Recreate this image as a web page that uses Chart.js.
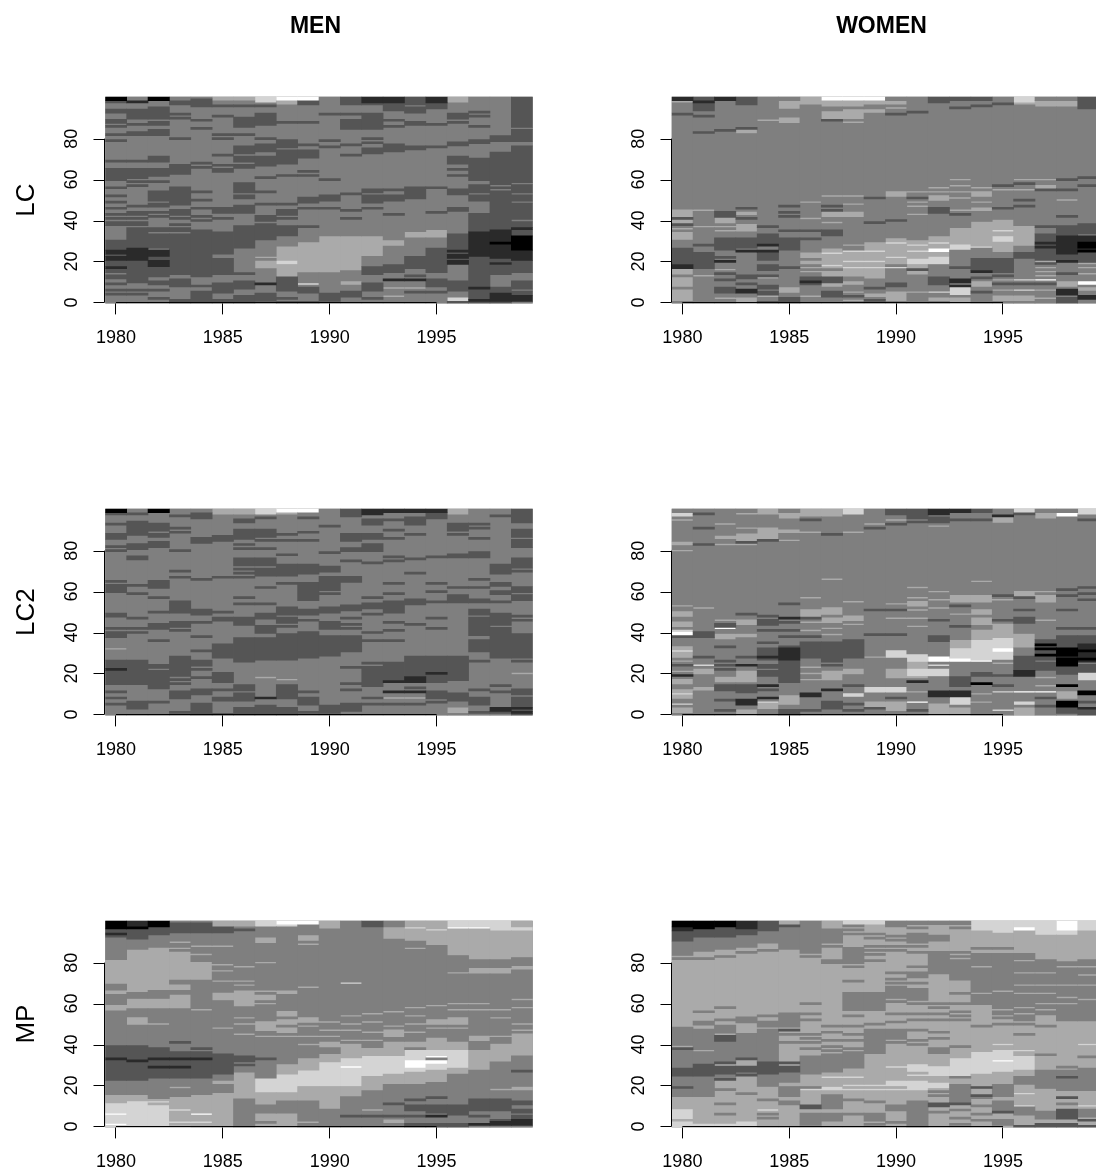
<!DOCTYPE html>
<html><head><meta charset="utf-8">
<script src="https://cdn.jsdelivr.net/npm/chart.js@4/dist/chart.umd.js"></script>
<style>html,body{margin:0;padding:0;background:#fff;width:1096px;height:1174px;overflow:hidden;position:relative}canvas{position:absolute}</style>
</head><body>
<script>
// Each string is one year column: "baseLevel age-age:level age:level ..." (levels 0 black .. 6 white)
const years=[1980,1981,1982,1983,1984,1985,1986,1987,1988,1989,1990,1991,1992,1993,1994,1995,1996,1997,1998,1999];
const yearTicks=[1980,1985,1990,1995];
const ageTicks=[0,20,40,60,80];
const grays=['#000000','#2a2a2a','#555555','#7f7f7f','#aaaaaa','#d4d4d4','#ffffff'];
const menLC=[
"3 99-100:0 98:2 93-94:2 88-89:2 86:2 82:2 79:2 69:2 60-65:2 56:2 52:2 49:2 46:2 43:2 41:2 38-39:2 26-30:2 24-25:1 23:2 21-22:1 18-20:2 17:1 15-16:2 12-13:2 9:2 6:2 4:2",
"3 98:1 90-94:2 87:2 82-83:2 69:2 61-65:2 59:2 57:2 47:2 43-44:2 41:2 38-39:2 27-36:2 21-26:1 13-20:2 10-12:2 6:2 4:2",
"3 99-100:0 90-95:2 87-88:2 82-84:2 69-71:2 62-65:2 59:2 51-54:2 50:2 47-48:2 44:2 42:2 36:2 27-35:2 34:3 23-25:1 21-22:2 18-20:1 13-17:2 9-10:2 6:2 2:2",
"3 97-98:2 92:2 90:2 80:2 63-67:2 48-56:2 43-45:2 41:2 38:2 35-36:2 14-33:2 8-11:2 0-1:2",
"3 96-99:2 89:2 85:2 68:2 66:2 54:2 50:2 46:2 42:2 40:2 31-35:2 27:1 13-31:2 10:3 8:2 0-5:2",
"3 99-100:4 96:2 91:2 82:2 80:2 72:2 67:2 64-65:2 44-46:2 41:2 24-34:2 23:3 22:3 14-21:2 5-9:2 0-1:2",
"3 99-100:4 96:2 86-90:2 82:2 73-76:2 69-71:2 66-67:2 54-58:2 51-52:2 44-47:2 27-37:2 14:2 7-10:2 0-3:2",
"3 98-100:5 96:2 87-92:2 80:2 74-77:2 67-71:2 61:2 54:2 48:2 40-42:2 31-38:2 22:4 17-20:4 9:1 1-4:2",
"3 99-100:6 97-98:4 88:2 76-79:2 68-74:2 62:2 48:2 43-45:2 41:2 33-37:2 27:4 16-26:4 19-20:5 13-15:4 10-12:2 6-9:2 2:2 0:2",
"3 99-100:6 97-98:2 88:2 77:2 71-74:2 64:2 62:2 49-51:2 46:2 37:2 15-29:4 9:5 5-7:2 0:2",
"3 92:2 79:2 76:2 60:2 50-52:2 46:2 15-32:4 1-4:2",
"3 97-100:2 92:2 85-89:2 77:2 72:2 53:2 45:2 41:2 19-32:4 17-18:4 16:4 12-15:3 9-10:4 3-5:2",
"3 98-100:1 97:2 88-92:2 85-87:2 80:2 78:2 73-75:2 54-55:2 49-52:2 46:2 23-32:4 14-17:2 6-9:2 2:2",
"3 98-100:1 94-97:2 89:2 86:2 74-77:2 55:2 50-52:2 43:2 28-30:4 15-18:2 11:1 7:4 3:4 ",
"3 98-100:2 97:2 93-95:2 87-88:2 75-76:2 54-56:2 51-53:2 32-34:4 17-22:2 13:2 11:1 7:4 5:2",
"3 98-100:1 95-97:2 87:2 76:2 56:2 44:2 32-35:4 15-26:2 8-11:2 5:2",
"3 98-100:4 90-92:2 88:2 77-78:2 68-71:2 65:2 62:2 53-55:2 45-46:2 33:2 20-32:2 25:1 22-23:1 19-20:1 6-10:2 3:3 1-2:5 0:2",
"3 93:2 91:2 86:2 78-79:2 60-70:2 54-57:2 50-52:2 33-43:2 23-33:1 34:1 0-22:2 7:1 1:1",
"3 79-81:2 58-73:2 56:2 36-54:2 27-35:1 29:0 22-26:1 0-21:2 19:1 9-13:3 8:3 1-4:1",
"3 90-100:2 86-89:2 79-84:2 63-76:2 54-62:2 58:3 50-52:2 46-48:2 37-45:2 40:3 36:1 32-35:2 26-32:0 21-25:1 15-20:2 7-10:2 4-5:2 1-3:1"];
const womenLC=[
"3 99-100:1 98:4 96-97:3 92:2 42-45:4 41:2 39-40:4 38:2 36:4 34:4 32-33:4 31:4 28-30:3 24-26:2 19-23:2 17-18:1 14-16:4 8-12:4 3-6:4 1-2:4",
"3 98-100:2 95-97:2 98:1 94:2 91:2 83:2 45:4 37:4 28:2 17-24:2 13:4",
"3 99-100:1 97:3 84:2 42-44:2 39-41:4 37:4 35:4 26-31:2 25:3 20:1 22:2 16:4 14:2 11:2 5-7:2 2:4",
"3 98-100:2 97:2 85:2 84:4 83:4 46:2 43-44:4 41:2 35-38:4 27-31:2 25:1 12-13:2 9:2 5-6:1 0-2:4",
"3 89:4 37:2 33:2 28-32:2 28:1 25:1 21-24:2 16-18:2 13:2 12:4 7-8:2 4-5:2 3:4 0:2",
"3 95-98:4 88-90:4 47:2 44:2 42:2 35:2 26-31:2 17:2 5-7:4 0-2:2",
"3 97-100:4 49:4 41:4 35:2 31:2 22-24:4 21:3 19-20:4 17:4 15:4 9-12:2 10:1 3:4",
"3 99-100:6 96-98:4 90-93:4 89:2 52:4 47:2 45:2 42-44:4 39:4 33-35:2 8-26:4 24:5 18:5 16:3 10-12:2 3-5:2 7:3",
"3 99-100:6 96-98:4 90-94:4 88:4 52:4 48:4 42-44:4 28:4 13-25:4 25:5 20:5 17:5 9-10:4 6:3 5:4 3:2 1:4",
"3 99-100:6 97-98:4 93-94:4 51:2 39:2 12-29:4 25:5 20:5 17:5 7:2 3-4:4 1:2",
"3 97-98:4 95:4 92:2 52-54:4 40:2 19-31:4 29:5 22:5 17:5 14:3 8-9:2 1-5:4",
"3 98-100:3 93:2 54:4 51:2 49:4 47:4 43:4 14-30:4 28:5 25:5 19-21:5 16:2 5:4",
"3 98-100:2 56:4 54:4 50-52:4 44-46:2 19-32:4 29:5 26:6 25:6 19-22:5 9-12:2 5:5 1-2:4",
"3 99-100:2 97:3 95:2 60:4 57:4 54:4 51:4 45:4 43:2 36:4 27-35:4 26-28:5 17:2 8-11:1 9:3 4-7:5 0-2:4",
"3 99-100:2 96:2 56:4 52-54:4 49:4 45-46:4 27-39:4 27:5 15-21:2 15:1 12:2 8-10:4 5:2",
"3 98-100:3 97:2 57:2 55:4 46:2 25-40:4 35:5 30-32:5 15-21:2 13:2 11:4 9:2 6:4 1-3:4",
"3 98-100:5 97:4 60:4 58:2 55:4 50:2 47:2 37:4 28-36:4 22-24:2 11:5 9:2 6:5 1-3:4",
"3 96-98:4 60:4 56-57:4 55:2 37:2 23-33:2 29:1 27:1 19-22:2 20:4 17:4 15:4 13:4 11:6 9:2 6:4 2:4",
"3 96-98:4 60:2 55:2 50:4 42:2 32-37:2 24-32:1 21-23:2 20:1 14:2 8-10:4 4-6:1 0-2:2",
"3 96-100:2 95:2 61:2 57:2 34-38:2 29-32:1 27-29:0 25-26:1 25:0 20-24:2 19:4 17:4 14:4 9-10:6 6-7:4 2-3:1"];
const menLC2=[
"3 99-100:0 98:2 93:2 86-88:2 82:2 80:2 65:2 60-63:2 49:2 48:2 42:2 38-40:2 32:4 15-26:2 22:1 11:2 8:2 5:2",
"3 98:2 89-94:2 88:2 81-83:2 76-77:2 63:2 59:2 47:2 42:2 40:2 15-26:2 3-6:2",
"3 99-100:0 90-93:2 87-88:2 82-84:2 62-65:2 57:2 50:2 42-44:2 36:2 13-24:2 22:3 6:2",
"3 97:2 91:2 89:2 80:2 70:2 67:2 50-55:2 43-45:2 41:2 19-28:2 17:2 15:2 8-11:2 1:2",
"3 96-98:2 84-86:2 66:2 49-51:2 45:2 38:2 31:2 24-26:2 22:2 18:2 10-12:2 0-5:2",
"3 98-100:4 85-87:2 67:2 50:2 46-47:2 29-34:2 28:2 16-20:2 12:2 7-8:2 0:2",
"3 98-100:4 95:2 94:2 86-90:2 83:2 81:2 73-76:2 71:2 69:2 67:2 57:2 54:2 44-47:2 26-37:2 12-14:2 7-10:2 0-3:2",
"3 98-100:5 96:2 87-90:2 85:2 81:2 73-76:2 68-71:2 62:2 54:2 47-49:2 40-43:2 27-37:2 18:4 8:1 0-4:2",
"3 99-100:6 98:4 88:2 85:2 78:2 68-73:2 64:2 49-52:2 45-47:2 43:2 36-39:2 27-36:2 17:4 8-14:2 0-3:2",
"3 99-100:6 96:2 89:2 85:2 69-73:2 56-64:2 49-51:2 46:2 28-40:2 11:2 5-8:2 1:2",
"3 92:2 79:2 70-72:2 61-67:2 59:2 50-52:2 42-45:2 38:2 29-37:2 1-4:2",
"3 97-100:2 85-88:2 80-81:2 75:2 65-67:2 51-53:2 47:2 44:2 42:2 31-38:2 23:2 15:2 12:2 2-5:2",
"3 98-100:1 93-95:2 86-88:2 80-83:2 74:2 57:2 52-54:2 49:2 40:2 36:2 25:2 14-23:2 8:2 5:2",
"3 99-100:1 95:2 90:2 86:2 77:2 75:2 64:2 59:2 50-55:2 45:2 41:2 36:2 16-25:2 16:1 11:1 8:4 5:2",
"3 99-100:1 93-96:2 88:2 76:2 69:2 54-56:2 44:2 18-28:2 16-18:1 13:2 11:1 8:4 5:2",
"3 99-100:1 96-98:2 77:2 64:2 60:2 55:2 47:2 42:2 16-28:2 20:1 8-11:2 6:2",
"3 98-100:4 90-93:2 88:2 77-78:2 62:2 55-58:2 17-28:2 7-10:2 1-3:4",
"3 93:2 91:2 86:2 77-79:2 66:2 62:2 55-56:2 49-51:2 44-47:2 39-43:2 33-36:2 32:2 31:2 26:2 12:2 5-8:2 1:2",
"3 97:2 69-73:2 63-64:2 59-60:2 55:2 44-49:2 39-42:2 28-38:2 14:2 11:2 2-3:1 1:2",
"3 94-100:2 87-90:2 82-85:2 72-76:2 70:2 60-62:2 56-58:2 48:2 46:2 28-39:2 27:3 26:2 20:4 10-12:2 6-8:2 0-5:2 3:1 1:1"];
const womenLC2=[
"3 97-98:5 95:4 83-84:4 80:4 53:4 48-50:4 43-45:4 41:5 39-40:6 38:2 28-33:4 31:5 24:2 26:4 21:4 19:1 15-17:4 8-12:4 10:5 5:5 1-3:4",
"3 98:2 91:2 83:2 52:4 38-40:2 28:2 24:5 20-22:4 12-13:4",
"3 97:3 93:4 86-87:4 83:4 46:4 42-44:2 42:6 37-39:4 33:2 26:2 24:2 22:2 16-18:4 12-14:2 7:2 2:2",
"3 98:4 91:4 85-88:4 84:2 83:4 49:2 44-46:4 38-39:4 28:2 24:1 16-21:4 11-14:2 5-7:1 0-2:4",
"3 98-100:4 86-91:4 85:2 48:2 44-46:2 41:2 35:2 27-32:2 28:1 23-24:2 19-21:2 14:1 12:2 8:1 6:5 3-5:4",
"3 96-98:4 89-90:4 85:4 54:2 47:1 45:2 41:2 38:2 31-33:2 26-32:1 21-26:2 16-20:2 5-9:4 0-2:2",
"3 97-100:4 95:2 89:4 57:4 48-51:4 47:2 45:4 41:4 38:2 28-35:2 23:4 20:4 17:4 9-10:1 2:2",
"3 97-100:4 88:2 66:4 49-52:4 45-47:4 42:4 39:4 26-35:2 24:2 17-21:4 12:1 3-6:2",
"3 98-100:5 89:4 55:4 46-48:4 44:4 28-36:2 20-22:4 14:2 9-10:5 5:2 2:2",
"3 93:4 91:2 51:2 39:2 28:4 11-13:5 3-6:4 3:2",
"3 98-100:2 95:4 93:2 54:4 51:2 47:4 39:2 28-31:5 18-22:4 11-13:5 8:2 2-6:4",
"3 96-100:2 94:2 62:4 57:4 53-55:4 51:4 47:4 43:4 26-29:5 23-25:4 19-22:5 18:4 16:1 11:4 6:6 2:2",
"3 98-100:1 94-96:2 92:4 60:4 56:4 52:4 46:2 36-38:2 26-28:6 24:5 19-22:5 9-11:1 0-5:4",
"3 99-100:1 95:2 55-58:4 53:2 49:4 43:2 27-36:4 28-32:5 26-27:6 14-18:2 9-11:1 5-8:5 0-3:4",
"3 99-100:2 95:2 65:4 55-58:4 49-51:4 44-47:4 37-41:4 27-36:5 26:6 19-20:2 15:0 10:4 6:4",
"3 99-100:3 97:1 94-96:4 58:2 56:4 46:2 37-44:4 32-37:5 31-32:6 27-30:5 25:4 19:2 14:2 11:5 2:5",
"3 99-100:5 98:2 58-60:4 57:2 51:2 45-47:2 33-39:4 21-28:2 19-21:1 11:6 5-6:5 0-3:4",
"3 96-98:4 60:4 55-58:4 46:4 27-36:2 34:0 32:0 29:0 22-25:2 18:4 14:4 11:6 8:2 4:2",
"3 97-98:6 61:2 58:2 51:2 42:2 32-38:2 24-32:0 28:1 20-23:2 14:0 8-11:4 4-6:0 1-3:2",
"3 98-100:5 95:2 62:2 59:2 56:2 42:2 34-38:2 26-34:1 31:0 27:0 20-24:2 17-20:5 10-11:0 8:3 6:2 3:1 0-2:2"];
const menMP=[
"3 97-100:0 95-96:2 93-94:1 93:2 82-84:3 70-81:4 68:3 65-66:4 62-64:3 57-59:4 34-39:2 33:1 23-32:2 11-15:4 7-11:5 5-6:6 2-5:5 1:6 0:5",
"3 98-100:1 97:0 92-96:2 81-86:4 65-81:4 62-65:3 58-62:4 50-53:4 33-39:2 23-32:2 32:1 11-15:4 12:5 6-11:5 0-6:5 ",
"3 98-100:0 94-97:2 84-87:4 66-84:4 62-66:3 58-62:4 50:4 34-38:2 33:1 24-32:2 29:1 10-13:4 12:5 4-10:5 0-4:5",
"3 95-99:2 90:4 81-87:4 86:3 72-81:4 67-69:4 58-64:4 41:2 24-36:2 33:1 29:1 19:4 0-14:4 8:5 2:5 0:5",
"3 95-99:2 88:4 84:4 72-80:4 57:4 38:2 24-36:2 33:1 0-15:4 6:6 2:5",
"3 98-100:4 95-97:2 94:3 88:4 79:4 76:4 71:4 62-65:4 48:4 26-35:2 21-22:4 0-16:4",
"3 98-100:4 96:2 78:4 71:4 69:4 60-66:4 59:4 53:4 50:4 45:4 32-34:2 30:2 14-26:4 7-10:3 13:3 3:3",
"3 98-100:5 90-92:4 80:4 66:4 62-64:4 60:4 47-51:4 46:3 44:4 33:2 21-23:5 17-20:5 14-16:4 0-14:4 7-10:3 2:3",
"3 99-100:6 98:5 66:4 65:4 54-56:4 50-52:4 46-48:4 44:4 24-30:4 25:5 18-24:5 16-18:5 13-16:4 8-12:3 0-6:4",
"3 99-100:6 91-93:4 89:4 68:4 51-53:4 49:4 44:4 40:4 29-33:4 27-29:4 19-27:5 12-19:4 4-12:3 2:4 1:3 ",
"3 97-100:4 93-96:3 51:4 47:4 44:4 39-41:4 37:3 31-35:4 19-31:5 11-19:4 9-11:4 0-8:3",
"3 97-100:3 70:5 54:4 50:4 47:4 42:4 33-40:4 19-33:5 29:6 14-19:4 6-14:3 5:2",
"3 98-100:2 92-94:3 55:4 51:4 46:4 42:4 34-38:4 24-34:5 17-24:4 0-17:3 8:4 5:2",
"3 98-100:3 92-97:4 56:4 49:4 44-47:4 41:4 34-41:4 25-34:5 21-25:4 11:2 5:2 2-3:4",
"3 91-100:4 97:5 87:4 58:4 54:4 50:4 46:4 39-41:4 32-37:5 28-32:6 26-28:5 21-26:4 13:2 8-10:2 5:2 0-1:2",
"3 90-100:4 96:5 89:4 59:4 50-52:4 48:4 42:4 37-43:4 34-37:5 34:6 30-32:6 27-30:5 22-27:4 14:2 7-10:2 5:1 0-1:2",
"3 97-100:5 97:6 84-96:4 75:4 60:4 57:4 50-53:4 48:4 37-41:4 28-37:5 26-28:4 6-10:2 0-1:2",
"3 97-100:5 97:6 82-96:4 75-77:4 60:4 57:4 28-37:4 42-44:4 8-13:2 2-6:3 5:2 1:1",
"3 95-100:5 82-95:4 75-77:4 57:4 53:4 44:4 36-40:4 32-35:4 18:4 8-13:2 3:2 1-2:1",
"3 98-100:4 96-97:5 83-95:4 77-78:4 62:4 58:4 50:4 47:4 35-45:4 27:2 19:4 18:4 11-12:2 7-8:2 4-5:2 1-3:1"];
const womenMP=[
"4 98-100:0 96-97:1 90-95:2 85-90:3 84:3 82:3 40-48:3 38:2 29-37:3 25-28:2 15-24:3 19:2 4-8:5 9-14:4 0-2:5",
"4 97-100:0 93-96:2 86-92:3 82:3 56:3 50-51:3 29-47:3 37:4 25-30:2 15-24:3 21:3 1:5 0:5",
"4 98-100:0 93-97:2 87-92:3 83:3 58:3 52:3 46-49:3 42-44:2 32-41:3 31:2 26-29:2 23:2 24-25:3 18:3 11:3 6:3 0:5 1:5",
"4 97-100:1 94-96:2 88-93:3 85:3 51-53:3 35-45:3 34:3 33:2 27-29:2 25:2 26:3 16:3 0-2:5",
"4 96-100:2 90-95:3 86:3 54:3 49-51:3 32-47:3 26-31:2 24-25:3 20-24:3 13:3 8:5 6:3 4:3",
"4 98:2 88-97:3 87:3 49-55:3 47:2 45:3 41:3 31:2 27-29:2 22-26:3 16-19:3 15:3 11-12:3",
"4 90-100:3 85-89:3 83:3 60:3 55:3 52:3 45:3 43:3 41:3 38:3 26-34:3 18:5 19:3 9-10:2 1-6:3",
"4 97-100:4 90-96:3 88:3 80-81:3 49:3 46:3 42:3 39:3 37:3 30:3 27-35:3 24:5 19:5 18:5 9-15:3 3-6:3",
"4 99-100:5 98:3 96:3 94:3 80-87:3 78:3 71:3 57-65:3 54:3 49:3 45:3 42:3 38:3 29-36:3 24:5 20:5 18:5 13:3 6:3",
"4 99-100:5 94:3 92:3 88:3 86:3 84:3 81:3 57-65:3 50:3 36-47:3 20:5 18:5 12:3 3-6:3 1:3",
"4 98-100:3 93:3 91:3 88:3 86:3 75:3 72:3 70:3 63-68:3 61:3 55:3 51:3 43-47:3 41:3 29:5 20-22:5 18:5 8-10:3 2:3",
"4 99-100:3 97:3 90-94:3 88:3 85:3 78:3 73-75:3 70:3 62-67:3 60:3 55:3 52:3 47:3 42:3 40:3 27-30:5 25:5 19-22:5 18:5 5-12:3 0-4:3",
"4 99-100:3 91-93:3 75-85:3 68-72:4 60:3 58:3 55:3 52:3 46:3 43:3 36-38:3 25-29:5 19-21:5 17:3 15:3 10-11:2 7:3",
"4 99-100:3 97:3 85:3 83:3 72-81:3 65:3 60:3 56:3 54:3 52:3 39:3 25-33:5 24:3 11-20:3 11:2 8:3 4:3 1:3",
"4 96-100:5 87:3 84:3 60-83:3 78:4 65:4 49:3 26-36:5 19:2 15:2 14:3 10:3 6:3 3:3",
"4 95-100:5 87:3 55-84:3 66:4 57:4 53:3 50:3 40:5 27-37:5 32:6 15-20:3 8-12:3 7:2 1-3:3",
"4 97-100:5 96-97:6 82-84:3 52-80:3 75:4 69:4 65:4 58:4 55:4 50:3 45:3 37:5 28-34:5 21-24:3 16:5 10:5 6-9:3 0:2",
"4 94-100:5 55-81:3 75:4 69:4 65:4 60:4 57:4 49:3 35:3 19-27:3 4-7:3 0-1:2",
"4 96-100:6 94-95:5 52-80:3 78:4 69:4 63:4 60:4 50:4 29:3 18-27:3 24:2 14:2 11:3 4-8:2 0-1:2",
"4 96-100:5 52-81:3 78:4 74:4 69:4 62:4 40:5 34:3 18-27:3 28:3 10:5 5-8:3 3:2 0:2"];
const panels=[
 {values:menLC,label:'LC',title:'MEN',col:0,row:0},
 {values:womenLC,label:null,title:'WOMEN',col:1,row:0},
 {values:menLC2,label:'LC2',title:null,col:0,row:1},
 {values:womenLC2,label:null,title:null,col:1,row:1},
 {values:menMP,label:'MP',title:null,col:0,row:2},
 {values:womenMP,label:null,title:null,col:1,row:2}];

function column(str){
  const parts=str.trim().split(/\s+/);
  const cells=new Array(101).fill(+parts[0]);
  for(const t of parts.slice(1)){
    const [range,lev]=t.split(':');const [a,b]=range.split('-').map(Number);
    const lo=Math.min(a,b===undefined?a:b),hi=Math.max(a,b===undefined?a:b);
    for(let i=lo;i<=hi;i++)cells[i]=+lev;
  }
  return cells;
}
function datasetsFor(values){
  const byLevel=grays.map(()=>[]);
  values.forEach((s,k)=>{
    const c=column(s);let start=0;
    for(let i=1;i<=101;i++){
      if(i===101||c[i]!==c[start]){byLevel[c[start]].push({x:years[k],y:[start-0.5,i-0.5]});start=i;}
    }
  });
  return byLevel.map((data,l)=>({data,backgroundColor:grays[l],borderWidth:0,inflateAmount:0.33,grouped:false,barPercentage:1,categoryPercentage:1}));
}
const TITLE_CX=315.5, Y_TICK_LEN=11;
const panelDecor={id:'panelDecor',
  afterLayout(c){const t=c.titleBlock;if(t&&t.options.display){const d=TITLE_CX-(t.left+t.right)/2;t.left+=d;t.right+=d;}},
  beforeDatasetsDraw(c){const a=c.chartArea;c.ctx.save();c.ctx.fillStyle=grays[3];c.ctx.fillRect(a.left,a.top,a.right-a.left,a.bottom-a.top);c.ctx.restore();},
  afterDraw(c){
    const {ctx}=c,x=c.scales.x,y=c.scales.y;
    ctx.save();ctx.strokeStyle='#000';ctx.lineWidth=1;ctx.beginPath();
    const lx=Math.round(c.chartArea.left)-0.5,by=Math.round(c.chartArea.bottom)-0.5;
    ctx.moveTo(lx,y.getPixelForValue(ageTicks[0]));ctx.lineTo(lx,y.getPixelForValue(ageTicks[ageTicks.length-1]));
    ctx.moveTo(x.getPixelForValue(yearTicks[0]),by);ctx.lineTo(x.getPixelForValue(yearTicks[yearTicks.length-1]),by);
    ageTicks.forEach(v=>{const py=Math.round(y.getPixelForValue(v))+0.5;ctx.moveTo(lx-Y_TICK_LEN,py);ctx.lineTo(lx,py);});
    ctx.stroke();ctx.restore();
  }};
const FONT='"Liberation Sans",Arial,sans-serif';
panels.forEach(p=>{
  const cv=document.createElement('canvas');
  cv.width=632;cv.height=350;
  cv.style.cssText=`left:${566*p.col}px;top:${412*p.row}px;width:632px;height:350px`;
  document.body.appendChild(cv);
  const yw=p.col?105.7:105.3;
  const tf=23, tcy=26.5;
  new Chart(cv,{type:'bar',data:{datasets:datasetsFor(p.values)},plugins:[panelDecor],options:{
    responsive:false,animation:false,events:[],
    layout:{padding:{top:p.title?0:96.7,left:0,right:632-yw-427.4,bottom:0}},
    plugins:{legend:{display:false},tooltip:{enabled:false},
      title:{display:!!p.title,text:p.title||'',color:'#000',font:{family:FONT,size:tf,weight:'bold',lineHeight:1.2},
        padding:{top:tcy-tf*0.6,bottom:96.7-tf*1.2-(tcy-tf*0.6)}}},
    scales:{
      x:{type:'linear',min:1979.5,max:1999.5,offset:false,
        afterBuildTicks:s=>{s.ticks=yearTicks.map(v=>({value:v}));},
        afterFit:s=>{s.height=46.6;},
        border:{display:false},
        grid:{offset:false,drawOnChartArea:false,drawTicks:true,tickLength:11,tickWidth:1,tickColor:'#000',color:'#000',lineWidth:1},
        ticks:{color:'#000',font:{family:FONT,size:18},padding:13,maxRotation:0,minRotation:0,autoSkip:false,callback:v=>String(v)}},
      y:{type:'linear',min:-0.5,max:100.5,
        afterBuildTicks:s=>{s.ticks=ageTicks.map(v=>({value:v}));},
        afterFit:s=>{s.width=yw;},
        border:{display:false},
        title:{display:!!p.label,text:p.label||'',color:'#000',font:{family:FONT,size:26,lineHeight:1.2},padding:{top:11,bottom:0}},
        grid:{offset:false,drawOnChartArea:false,drawTicks:false},
        ticks:{color:'#000',font:{family:FONT,size:18},padding:23,minRotation:90,maxRotation:90,crossAlign:'center',autoSkip:false,callback:v=>String(v)}}
    }}});
});
</script>
</body></html>
